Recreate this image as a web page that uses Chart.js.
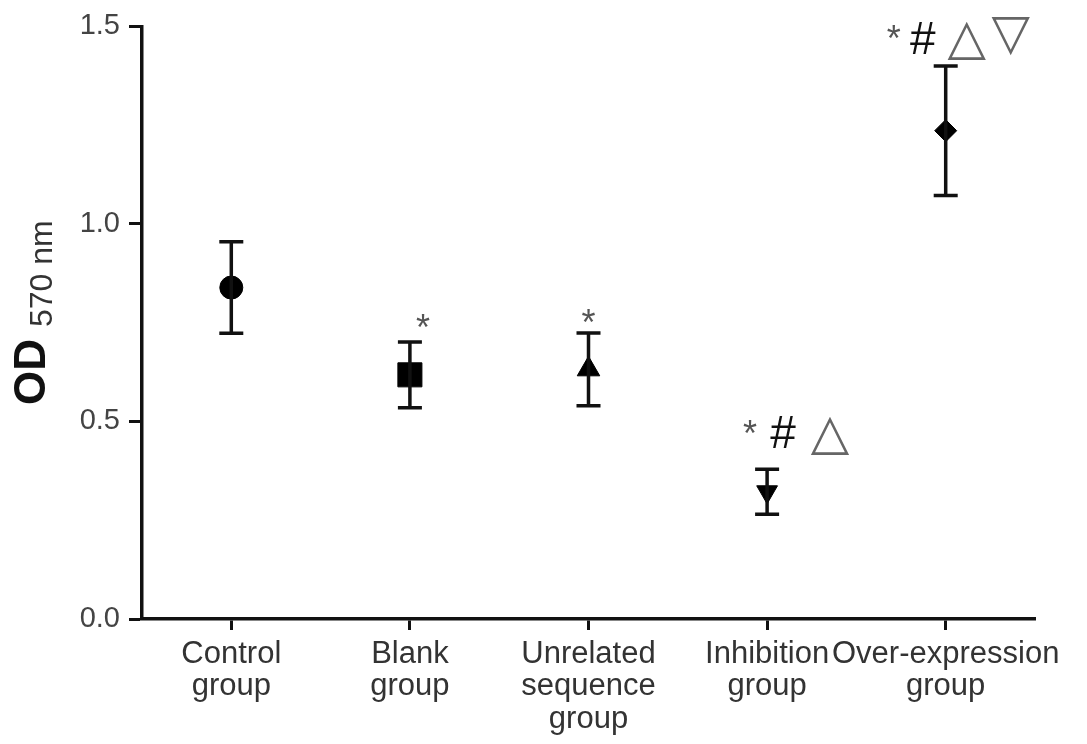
<!DOCTYPE html>
<html lang="en">
<head>
<meta charset="UTF-8">
<title>OD 570nm by group</title>
<script src="https://cdn.jsdelivr.net/npm/chart.js"></script>
<style>
    body { margin: 0; background: #fff; }
    #wrap { width: 1087px; height: 744px; }
</style>
</head>
<body>
<div id="wrap"><canvas id="chart"></canvas></div>
<script>
    // data
    const groups = [['Control', 'group'], ['Blank', 'group'], ['Unrelated', 'sequence', 'group'], ['Inhibition', 'group'], ['Over-expression', 'group']];
    const means = [0.839, 0.618, 0.632, 0.322, 1.236];
    const sds = [0.116, 0.083, 0.092, 0.057, 0.164];
    const markers = ['circle', 'rect', 'triangle', 'triangle', 'rectRot'];
    const signif = [[], ['*'], ['*'], ['*', '#', '\u25B3'], ['*', '#', '\u25B3', '\u25BD']];
    const yTicks = [0, 0.5, 1.0, 1.5];

    // pixel offsets of the significance marks from the top cap
    const markOffsets = {
        1: [[13, -19]],
        2: [[0, -15]],
        3: [[-17, -40], [16, -34], [63, -33]],
        4: [[-52, -32], [-23, -25], [21, -25], [65, -30]]
    };

    const errorBars = {
        id: 'errorBars',
        afterDatasetsDraw(chart) {
            const ctx = chart.ctx, x = chart.scales.x, y = chart.scales.y;
            ctx.save();
            ctx.strokeStyle = '#111';
            ctx.lineWidth = 3.5;
            means.forEach((m, i) => {
                const px = x.getPixelForValue(i);
                const top = y.getPixelForValue(m + sds[i]);
                const bot = y.getPixelForValue(m - sds[i]);
                ctx.beginPath();
                ctx.moveTo(px, top); ctx.lineTo(px, bot);
                ctx.moveTo(px - 12, top); ctx.lineTo(px + 12, top);
                ctx.moveTo(px - 12, bot); ctx.lineTo(px + 12, bot);
                ctx.stroke();

                ctx.textAlign = 'center';
                ctx.textBaseline = 'middle';
                signif[i].forEach((s, k) => {
                    const off = markOffsets[i][k];
                    if (s === '*') {
                        ctx.font = '36px Arial';
                        ctx.fillStyle = '#555';
                        ctx.fillText(s, px + off[0], top + off[1] + 7);
                    } else if (s === '#') {
                        ctx.font = '46px Arial';
                        ctx.fillStyle = '#111';
                        ctx.fillText(s, px + off[0], top + off[1]);
                    } else {
                        ctx.font = '50px "DejaVu Sans"';
                        ctx.fillStyle = '#666';
                        ctx.fillText(s, px + off[0], top + off[1]);
                    }
                });
            });
            ctx.restore();
        }
    };

    const yTitle = {
        id: 'yTitle',
        afterDraw(chart) {
            const ctx = chart.ctx;
            ctx.save();
            ctx.translate(45, 405);
            ctx.rotate(-Math.PI / 2);
            ctx.fillStyle = '#111';
            ctx.textAlign = 'left';
            ctx.textBaseline = 'alphabetic';
            ctx.font = 'bold 44px Arial';
            ctx.fillText('OD', 0, 0);
            const w = ctx.measureText('OD').width;
            ctx.font = '32px Arial';
            ctx.fillStyle = '#333';
            ctx.fillText('570 nm', w + 12, 7);
            ctx.restore();
        }
    };

    new Chart(document.getElementById('chart'), {
        type: 'line',
        data: {
            labels: groups,
            datasets: [{
                data: means,
                showLine: false,
                pointStyle: markers,
                pointRotation: [0, 0, 0, 180, 0],
                pointRadius: [11.5, 17, 13, 12, 11],
                pointBackgroundColor: '#000',
                pointBorderColor: '#000',
                pointBorderWidth: 1
            }]
        },
        options: {
            responsive: true,
            maintainAspectRatio: false,
            animation: false,
            layout: { padding: { top: 19, right: 52, left: 0, bottom: 0 } },
            plugins: { legend: { display: false }, tooltip: { enabled: false } },
            scales: {
                x: {
                    offset: true,
                    afterFit: s => { s.height = 125; },
                    grid: { drawOnChartArea: false, drawTicks: true, tickLength: 11, tickWidth: 3, tickColor: '#111', offset: false },
                    border: { color: '#111', width: 3.5 },
                    ticks: {
                        color: '#333',
                        padding: 8,
                        maxRotation: 0,
                        autoSkip: false,
                        font: { family: 'Arial', size: 31, lineHeight: 1.05 }
                    }
                },
                y: {
                    min: 0,
                    max: 1.5,
                    afterFit: s => { s.width = 142; },
                    afterBuildTicks: s => { s.ticks = yTicks.map(v => ({ value: v })); },
                    grid: { drawOnChartArea: false, drawTicks: true, tickLength: 13, tickWidth: 3, tickColor: '#111' },
                    border: { color: '#111', width: 3.5 },
                    ticks: {
                        color: '#444',
                        padding: 9,
                        font: { family: 'Arial', size: 29 },
                        callback: v => v.toFixed(1)
                    }
                }
            }
        },
        plugins: [errorBars, yTitle]
    });
</script>
</body>
</html>
